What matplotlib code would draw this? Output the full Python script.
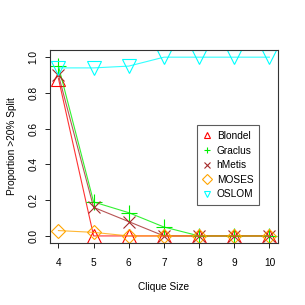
import matplotlib
matplotlib.use("Agg")
import matplotlib.pyplot as plt
from matplotlib.lines import Line2D

plt.rcParams['font.family'] = ['Liberation Sans', 'DejaVu Sans']

# Data
clique_size = [4, 5, 6, 7, 8, 9, 10]
blondel = [0.88, 0.0, 0.0, 0.0, 0.0, 0.0, 0.0]
graclus = [0.95, 0.19, 0.13, 0.05, 0.0, 0.0, 0.0]
hmetis = [0.90, 0.16, 0.08, 0.0, 0.0, 0.0, 0.0]
moses = [0.03, 0.02, 0.0, 0.0, 0.0, 0.0, 0.0]
oslom = [0.94, 0.94, 0.95, 1.0, 1.0, 1.0, 1.0]

names = ["Blondel", "Graclus", "hMetis", "MOSES", "OSLOM"]
series = [blondel, graclus, hmetis, moses, oslom]
colors = ["#FF0000", "#00EE00", "#A52A2A", "#FFA500", "#00FFFF"]
markers = ["^", "+", "x", "D", "v"]
msizes = [10, 11, 9, 7, 10]

fs = 7.3

fig = plt.figure(figsize=(3.05, 3.05), dpi=100)
ax = fig.add_axes([0.164, 0.203, 0.747, 0.633])

for y, c, m, s in zip(series, colors, markers, msizes):
    ax.plot(clique_size, y, color=c, linewidth=0.8, alpha=0.8)
    ax.plot(clique_size, y, linestyle="none", marker=m, markersize=s,
            markerfacecolor="none", markeredgecolor=c, markeredgewidth=0.8)

ax.set_xlim(3.76, 10.24)
ax.set_ylim(-0.04, 1.04)
ax.set_xticks(clique_size)
ax.set_yticks([0.0, 0.2, 0.4, 0.6, 0.8, 1.0])
ax.set_yticklabels(["0.0", "0.2", "0.4", "0.6", "0.8", "1.0"], rotation=90, va="center")
ax.tick_params(labelsize=fs, length=3.5, width=0.6, direction="out")
ax.tick_params(axis="x", pad=7)
ax.tick_params(axis="y", pad=5)
for sp in ax.spines.values():
    sp.set_linewidth(0.8)
    sp.set_color("#333333")

ax.set_xlabel("Clique Size", fontsize=fs, labelpad=10)
ax.set_ylabel("Proportion >20% Split", fontsize=fs, labelpad=8)

handles = [Line2D([], [], linestyle="none", marker=m, markersize=5,
                  markerfacecolor="none", markeredgecolor=c, markeredgewidth=0.8)
           for c, m in zip(colors, markers)]
leg = ax.legend(handles, names, loc="center right", bbox_to_anchor=(0.917, 0.404),
                fontsize=fs, frameon=True, fancybox=False, handlelength=0.8,
                handletextpad=0.6, borderpad=0.55, labelspacing=0.45,
                borderaxespad=0)
leg.get_frame().set_edgecolor("#333333")
leg.get_frame().set_linewidth(0.8)

fig.savefig("out.png", dpi=100)
